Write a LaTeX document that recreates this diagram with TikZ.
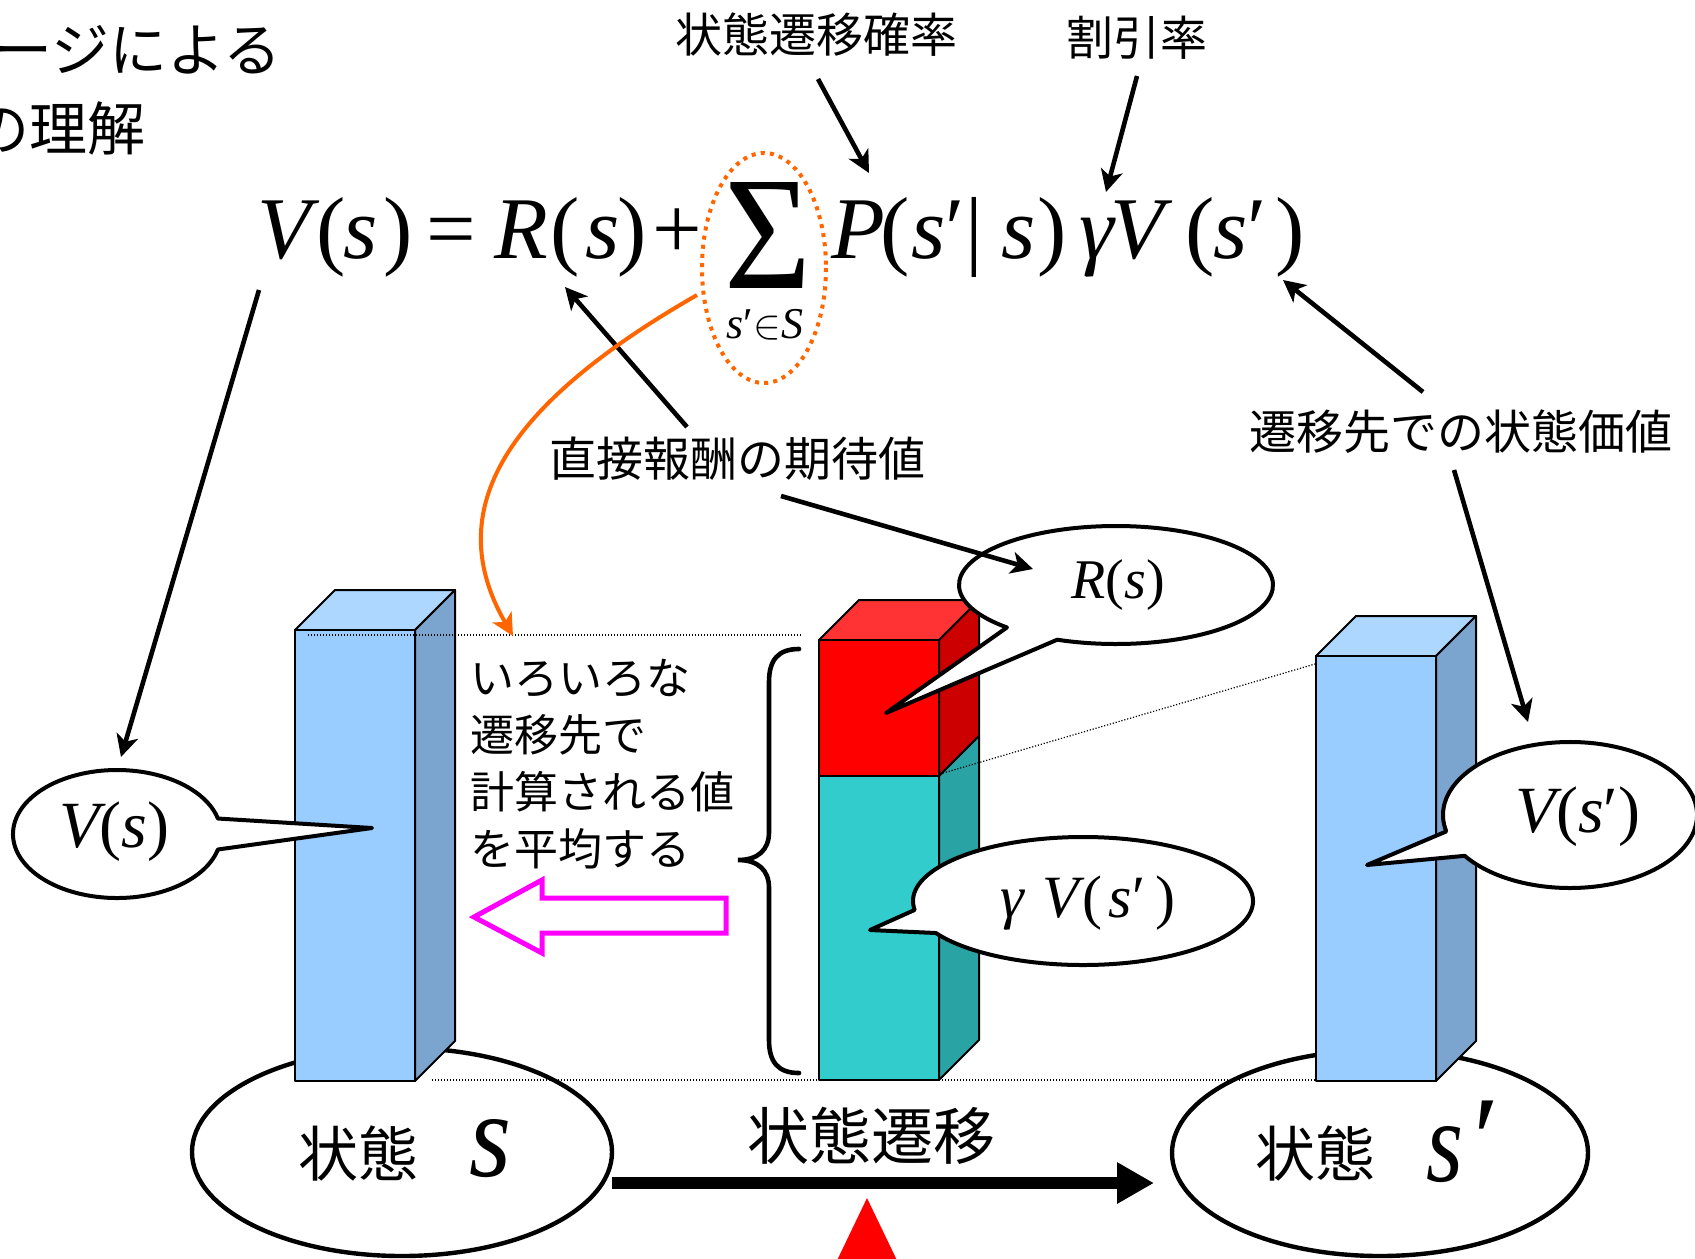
\documentclass[tikz,border=0pt]{standalone}
\usepackage{fontspec}
\usepackage{graphicx}
\newfontfamily\jp{Noto Sans CJK JP}
\newfontfamily\eqf{Liberation Serif}
\usetikzlibrary{arrows.meta,shapes.geometric}
\definecolor{barblue}{HTML}{99CCFF}
\definecolor{barbluetop}{HTML}{AED7FF}
\definecolor{barblueside}{HTML}{7BA4CE}
\definecolor{redfront}{HTML}{FF0000}
\definecolor{redtop}{HTML}{FF3333}
\definecolor{redside}{HTML}{CC0000}
\definecolor{tealfront}{HTML}{33CCCC}
\definecolor{tealside}{HTML}{29A3A3}
\definecolor{orangeL}{HTML}{FF6600}
\definecolor{magentaL}{HTML}{FF00FF}
\begin{document}
\begin{tikzpicture}[x=0.5pt,y=-0.5pt,
 jlab/.style={font=\jp\fontsize{23.5}{28}\selectfont, inner sep=0pt},
 jbig/.style={font=\jp\fontsize{31}{36}\selectfont, inner sep=0pt},
 jstate/.style={font=\jp\fontsize{30}{34}\selectfont, inner sep=0pt},
 jtl/.style={font=\jp\fontsize{29}{34}\selectfont, inner sep=0pt, anchor=east},
 jblock/.style={font=\jp\fontsize{22}{26}\selectfont, inner sep=0pt, anchor=west},
 eqi/.style={font=\eqf\itshape\fontsize{44}{50}\selectfont, inner sep=0pt, anchor=base},
 equ/.style={font=\eqf\fontsize{44}{50}\selectfont, inner sep=0pt, anchor=base},
 arr/.style={line width=2.3pt, -{Stealth[length=11pt,width=11pt,inset=3pt]}},
 barline/.style={draw=black, line width=1pt, line join=round},
 callout/.style={draw=black, fill=white, line width=2pt, line join=round},
 stateell/.style={ellipse, draw=black, line width=2.2pt, inner sep=0pt},
 dotline/.style={line width=0.6pt, dash pattern=on 0.6pt off 0.9pt},
 ctext/.style={font=\eqf\fontsize{33}{38}\selectfont, inner sep=0pt, anchor=base}
]
\useasboundingbox (0,0) rectangle (1695,1258);
\fill[white] (0,0) rectangle (1695,1258);

% ---- top-left title (cut off) ----
\node[jtl] (tl1) at (282,50) {ージによる};
\node[jtl] (tl2) at (146,128) {の理解};

% ---- state ellipses ----
\node[stateell, minimum width=210pt, minimum height=104pt] (stA) at (402,1152) {};
\node[stateell, minimum width=208pt, minimum height=103pt] (stB) at (1380,1153) {};
\node[jstate] (stAt) at (358,1153) {状態};
\node[inner sep=0pt] (stAs) at (490,1149) {\resizebox{21pt}{28.5pt}{\eqf\itshape s}};
\node[jstate] (stBt) at (1315,1153) {状態};
\node[inner sep=0pt] (stBs) at (1445,1155) {\resizebox{18.5pt}{27.5pt}{\eqf\itshape s}};
\node[inner sep=0pt, font=\eqf\fontsize{60}{60}\selectfont] (stBp) at (1487,1140) {′};

% ---- bottom dotted line ----
\coordinate (dbL) at (432,1080);
\coordinate (dbR) at (1316,1080);
\draw[dotline] (dbL) -- (dbR);

% ---- left bar ----
\filldraw[barline, fill=barbluetop] (295,630) -- (335,590) -- (455,590) -- (415,630) -- cycle;
\filldraw[barline, fill=barblueside] (415,630) -- (455,590) -- (455,1041) -- (415,1081) -- cycle;
\filldraw[barline, fill=barblue] (295,630) rectangle (415,1081);

% ---- middle bar ----
\filldraw[barline, fill=redtop] (819,640) -- (859,600) -- (979,600) -- (939,640) -- cycle;
\filldraw[barline, fill=redside] (939,640) -- (979,600) -- (979,736) -- (939,776) -- cycle;
\filldraw[barline, fill=tealside] (939,776) -- (979,736) -- (979,1040) -- (939,1080) -- cycle;
\filldraw[barline, fill=redfront] (819,640) rectangle (939,776);
\filldraw[barline, fill=tealfront] (819,776) rectangle (939,1080);

% ---- right bar ----
\filldraw[barline, fill=barbluetop] (1316,656) -- (1356,616) -- (1476,616) -- (1436,656) -- cycle;
\filldraw[barline, fill=barblueside] (1436,656) -- (1476,616) -- (1476,1041) -- (1436,1081) -- cycle;
\filldraw[barline, fill=barblue] (1316,656) rectangle (1436,1081);

% ---- dotted guide lines ----
\coordinate (dtA) at (308,635);
\coordinate (dtB) at (802,635);
\draw[dotline] (dtA) -- (dtB);
\coordinate (dmA) at (940,774);
\coordinate (dmB) at (1315,664);
\draw[dotline] (dmA) -- (dmB);

% ---- brace ----
\draw[line width=2.3pt, line cap=round] (799,649) .. controls (778,649) and (769,660) .. (769,682) -- (769,832) .. controls (769,850) and (758,860) .. (738,860) .. controls (758,860) and (769,870) .. (769,888) -- (769,1040) .. controls (769,1062) and (778,1073) .. (799,1073);

% ---- text block ----
\node[jblock] (tb1) at (470,678) {いろいろな};
\node[jblock] (tb2) at (470,735) {遷移先で};
\node[jblock] (tb3) at (470,792) {計算される値};
\node[jblock] (tb4) at (470,849) {を平均する};

% ---- magenta hollow arrow ----
\draw[line width=2.5pt, magentaL, fill=white, line join=miter] (474,917) -- (542,880) -- (542,898) -- (726,898) -- (726,933) -- (542,933) -- (542,953) -- cycle;

% ---- callouts ----
\filldraw[callout] (117,834) ++(14:104 and 64) arc[start angle=14, end angle=346, x radius=104, y radius=64] -- (372,828) -- cycle;
\node[ctext] (cVs) at (114,847) {{\itshape V}({\itshape s})};

\filldraw[callout] (1116,585) ++(134:157 and 59) arc[start angle=134, end angle=472, x radius=157, y radius=59] -- (886,713) -- cycle;
\node[ctext, font=\eqf\fontsize{28}{32}\selectfont] (cRs) at (1118,598) {{\itshape R}({\itshape s})};

\filldraw[callout] (1083,901) ++(172:170 and 64) arc[start angle=172, end angle=510, x radius=170, y radius=64] -- (870,930) -- cycle;
\node[ctext, font=\eqf\fontsize{30}{34}\selectfont] (cGV) at (1088,917) {{\itshape γ}\kern9pt{\itshape V}\kern2pt(\kern3pt{\itshape s}′\kern5pt)};

\filldraw[callout] (1570,815) ++(167:127 and 73) arc[start angle=167, end angle=506, x radius=127, y radius=73] -- (1367,865) -- cycle;
\node[ctext] (cVn) at (1578,832) {{\itshape V}({\itshape s}′)};

% ---- equation ----
\node[eqi] (eqV1) at (284,258) {V};
\node[equ] (eqL1) at (331,258) {(};
\node[eqi] (eqS1) at (361,258) {s};
\node[equ] (eqR1) at (398,258) {)};
\node[equ] (eqEq) at (451,258) {=};
\node[eqi] (eqRr) at (521,258) {R};
\node[equ] (eqL2) at (565,258) {(};
\node[eqi] (eqS2) at (603,258) {s};
\node[equ] (eqR2) at (632,258) {)};
\node[equ] (eqPl) at (677,258) {+};
\node[inner sep=0pt] (eqSum) at (768,235) {\resizebox{43.5pt}{53pt}{\eqf Σ}};
\node[font=\eqf\fontsize{22}{26}\selectfont, inner sep=0pt, anchor=base] (eqSub) at (765,338) {{\itshape s}′$\in${\itshape S}};
\node[eqi] (eqP) at (858,258) {P};
\node[equ] (eqL3) at (895,258) {(};
\node[eqi, anchor=base west] (eqS3) at (911,258) {s\upshape′};
\node[equ] (eqBar) at (974,258) {|};
\node[eqi] (eqS4) at (1019,258) {s};
\node[equ] (eqR3) at (1052,258) {)};
\node[eqi] (eqGam) at (1097,258) {γ};
\node[eqi] (eqV2) at (1137,258) {V};
\node[equ] (eqL4) at (1200,258) {(};
\node[eqi, anchor=base west] (eqS5) at (1213,258) {s\upshape′};
\node[equ] (eqR4) at (1290,258) {)};

% dotted ring round the sum
\draw[orangeL, line width=2pt, dash pattern=on 2pt off 2.6pt] (764,268) ellipse [x radius=62, y radius=115];

% ---- labels ----
\node[jlab] (lblP) at (816,35) {状態遷移確率};
\node[jlab] (lblG) at (1137,38) {割引率};
\node[jlab] (lblR) at (737,459) {直接報酬の期待値};
\node[jlab] (lblVn) at (1461,432) {遷移先での状態価値};
\node[jbig] (lblT) at (871,1136) {状態遷移};

% ---- arrows ----
\coordinate (aP1) at (818,79);   \coordinate (aP2) at (869,173);
\coordinate (aG1) at (1137,76);  \coordinate (aG2) at (1106,192);
\coordinate (aR1) at (687,427);  \coordinate (aR2) at (565,287);
\coordinate (aV1) at (259,290);  \coordinate (aV2) at (121,757);
\coordinate (aN1) at (1423,392); \coordinate (aN2) at (1283,280);
\coordinate (aM1) at (1454,470); \coordinate (aM2) at (1528,722);
\coordinate (aC1) at (781,496);  \coordinate (aC2) at (1033,569);
\draw[arr] (aP1) -- (aP2);
\draw[arr] (aG1) -- (aG2);
\draw[arr] (aR1) -- (aR2);
\draw[arr] (aV1) -- (aV2);
\draw[arr] (aN1) -- (aN2);
\draw[arr] (aM1) -- (aM2);
\draw[arr] (aC1) -- (aC2);

% orange curved arrow
\coordinate (oA) at (697,295);
\coordinate (oB) at (513,636);
\draw[orangeL, line width=2pt, -{Stealth[length=11pt,width=11pt,inset=3pt]}] (oA) .. controls (505,405) and (440,510) .. (oB);

% ---- state transition arrow ----
\coordinate (trA) at (612,1183);
\coordinate (trB) at (1154,1183);
\draw[line width=6pt, -{Triangle[length=18.5pt,width=19.5pt]}] (trA) -- (trB);

% red triangle
\fill[redfront] (867,1198) -- (904,1275) -- (830,1275) -- cycle;
\end{tikzpicture}
\end{document}
